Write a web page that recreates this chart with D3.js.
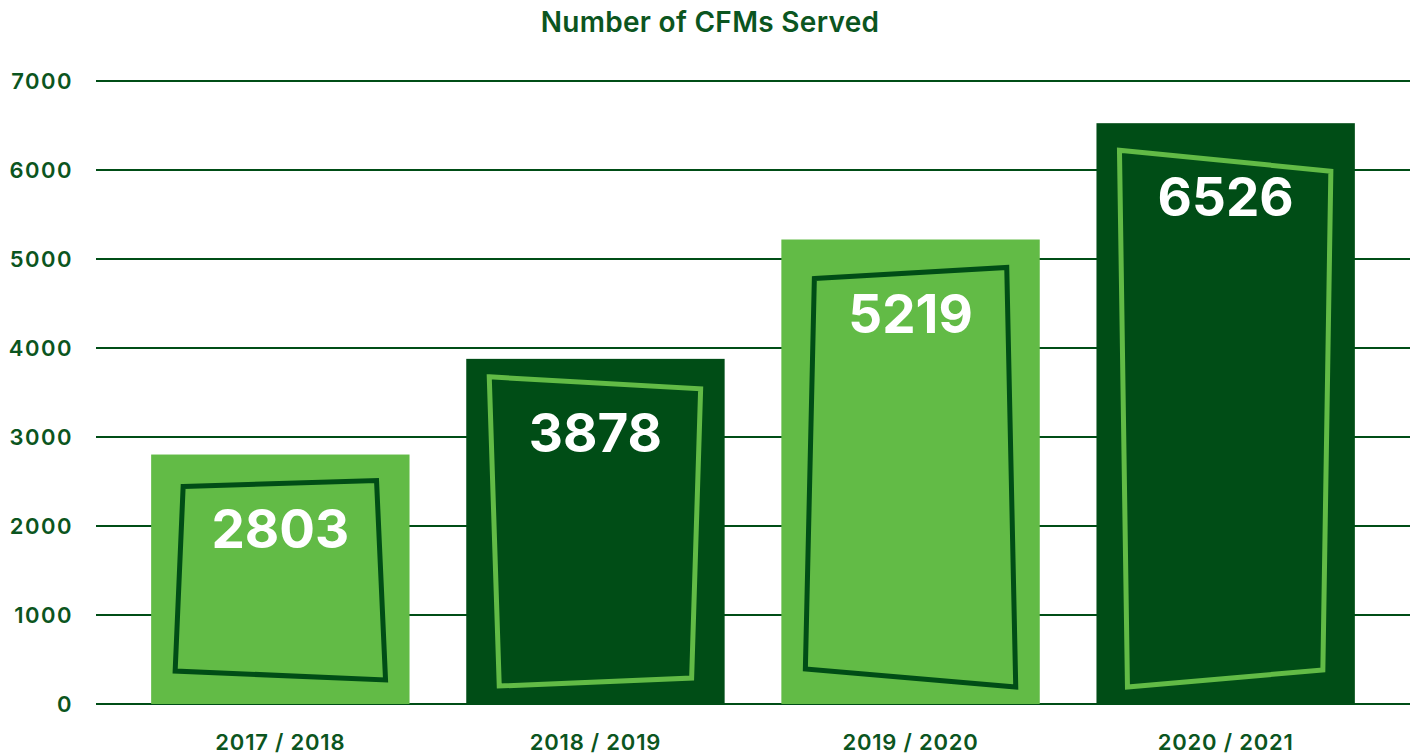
<!DOCTYPE html>
<html>
<head>
<meta charset="utf-8">
<script src="https://cdn.jsdelivr.net/npm/d3@7"></script>
<style>
  body { margin: 0; background: #fff; }
  svg { display: block; font-family: Inter, "Open Sans", sans-serif; }
</style>
</head>
<body>
<svg width="1421" height="756"></svg>
<script>
// data
const seasons = ['2017 / 2018', '2018 / 2019', '2019 / 2020', '2020 / 2021'];
const served = [2803, 3878, 5219, 6526];
const yTicks = [0, 1000, 2000, 3000, 4000, 5000, 6000, 7000];

const dark = '#004d16';
const light = '#62bb46';
const textGreen = '#0b5520';

// the skewed frame inside each bar, as insets [left/right, top/bottom] from the bar edges
const frameInsets = [
  [[32, 32], [33, 26], [24, 24], [24, 33]],
  [[23, 18], [24, 30], [33, 26], [33, 18]],
  [[33, 39], [33, 28], [24, 17], [24, 35]],
  [[23, 27], [24, 48], [32, 34], [31, 17]]
];

const svg = d3.select('svg');

const xScale = d3.scaleBand()
  .domain(seasons)
  .range([96, 1410])
  .paddingInner(0.18)
  .paddingOuter(0.175);

const yScale = d3.scaleLinear()
  .domain([0, 7000])
  .range([704, 81]);

// title
svg.append('text')
  .attr('x', 710)
  .attr('y', 32)
  .attr('text-anchor', 'middle')
  .style('font-size', '28px')
  .style('font-weight', 600)
  .style('letter-spacing', '0.3px')
  .style('fill', textGreen)
  .text('Number of CFMs Served');

// gridlines
svg.append('g')
  .selectAll('line')
  .data(yTicks)
  .join('line')
  .attr('x1', 96)
  .attr('x2', 1410)
  .attr('y1', d => yScale(d))
  .attr('y2', d => yScale(d))
  .attr('stroke', dark)
  .attr('stroke-width', 2);

// y tick labels
svg.append('g')
  .selectAll('text')
  .data(yTicks)
  .join('text')
  .attr('x', 73)
  .attr('y', d => yScale(d) + 8)
  .attr('text-anchor', 'end')
  .style('font-size', '22px')
  .style('font-weight', 600)
  .style('letter-spacing', '1.5px')
  .style('fill', textGreen)
  .text(d => d);

// bars
const bars = served.map((v, i) => ({season: seasons[i], value: v, i: i}));

svg.append('g')
  .selectAll('rect')
  .data(bars)
  .join('rect')
  .attr('x', d => xScale(d.season))
  .attr('y', d => yScale(d.value))
  .attr('width', xScale.bandwidth())
  .attr('height', d => yScale(0) - yScale(d.value))
  .attr('fill', d => d.i % 2 === 0 ? light : dark);

// frames inside bars
svg.append('g')
  .selectAll('polygon')
  .data(bars)
  .join('polygon')
  .attr('points', d => {
    const x0 = xScale(d.season);
    const x1 = x0 + xScale.bandwidth();
    const top = yScale(d.value);
    const bot = yScale(0);
    const f = frameInsets[d.i];
    return [
      [x0 + f[0][0], top + f[0][1]],
      [x1 - f[1][0], top + f[1][1]],
      [x1 - f[2][0], bot - f[2][1]],
      [x0 + f[3][0], bot - f[3][1]]
    ].map(p => p.join(',')).join(' ');
  })
  .attr('fill', 'none')
  .attr('stroke', d => d.i % 2 === 0 ? dark : light)
  .attr('stroke-width', 5)
  .attr('stroke-linejoin', 'miter');

// value labels
svg.append('g')
  .selectAll('text')
  .data(bars)
  .join('text')
  .attr('x', d => xScale(d.season) + xScale.bandwidth() / 2)
  .attr('y', d => yScale(d.value) + 93)
  .attr('text-anchor', 'middle')
  .style('font-size', '53px')
  .style('font-weight', 700)
  .style('fill', '#fff')
  .text(d => d.value);

// x labels
svg.append('g')
  .selectAll('text')
  .data(seasons)
  .join('text')
  .attr('x', d => xScale(d) + xScale.bandwidth() / 2)
  .attr('y', 750)
  .attr('text-anchor', 'middle')
  .style('font-size', '22px')
  .style('font-weight', 600)
  .style('letter-spacing', '0.8px')
  .style('fill', textGreen)
  .text(d => d);
</script>
</body>
</html>
